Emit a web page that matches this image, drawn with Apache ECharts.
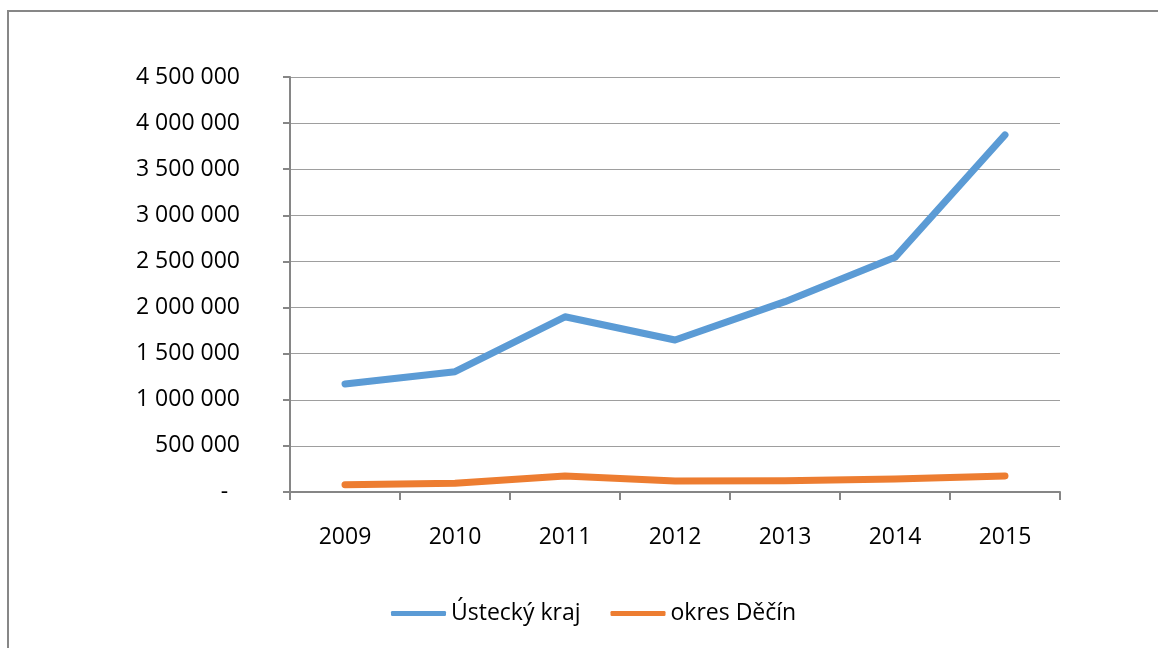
<!DOCTYPE html>
<html>
<head>
<meta charset="utf-8">
<script src="https://cdn.jsdelivr.net/npm/echarts@6/dist/echarts.min.js"></script>
<style>
html,body{margin:0;padding:0;background:#fff;}
#main{width:1158px;height:648px;}
</style>
</head>
<body>
<div id="main"></div>
<script>
var years = ['2009','2010','2011','2012','2013','2014','2015'];
var kraj = [1172000, 1305000, 1900000, 1648000, 2064000, 2545000, 3872000];
var decin = [79000, 94000, 174000, 119000, 121000, 141000, 174000];
var names = ['Ústecký kraj', 'okres Děčín'];

var chart = echarts.init(document.getElementById('main'));

// mezery jako oddelovac tisicu, nula jako pomlcka
function fmt(v){
    if(v===0) return '-  ';
    return String(v).replace(/\B(?=(\d{3})+(?!\d))/g, ' ');
}

var option = {
    backgroundColor:'#fff',
    textStyle:{fontFamily:'Open Sans', color:'#000'},
    graphic:[
        {
            type:'rect',
            shape:{x:8, y:11, width:1200, height:700},
            style:{fill:'none', stroke:'#878787', lineWidth:2},
            silent:true
        }
    ],
    legend:{
        data:names,
        left:386,
        top:597,
        itemWidth:55,
        itemHeight:5,
        itemGap:30,
        icon:'roundRect',
        textStyle:{fontFamily:'Open Sans', fontSize:23, color:'#000'}
    },
    grid:{left:290, right:98, top:77, bottom:156},
    xAxis:{
        type:'category',
        data:years,
        boundaryGap:true,
        axisLine:{lineStyle:{color:'#868686', width:2}},
        axisTick:{show:true, length:8, lineStyle:{color:'#868686', width:2}},
        axisLabel:{fontSize:23, color:'#000', margin:34, fontFamily:'Open Sans'}
    },
    yAxis:{
        type:'value',
        min:0,
        max:4500000,
        interval:500000,
        axisLine:{show:true, lineStyle:{color:'#868686', width:2}},
        axisTick:{show:true, length:7, lineStyle:{color:'#868686', width:2}},
        axisLabel:{fontSize:23, color:'#000', margin:50, fontFamily:'Open Sans', formatter:fmt},
        splitLine:{lineStyle:{color:'#9e9e9e', width:1}}
    },
    series:[
        {
            name:names[0],
            type:'line',
            data:kraj,
            symbol:'none',
            color:'#5b9bd5',
            lineStyle:{width:7, cap:'round', join:'round'}
        },
        {
            name:names[1],
            type:'line',
            data:decin,
            symbol:'none',
            color:'#ed7d31',
            lineStyle:{width:7, cap:'round', join:'round'}
        }
    ]
};
chart.setOption(option,true);
</script>
</body>
</html>
